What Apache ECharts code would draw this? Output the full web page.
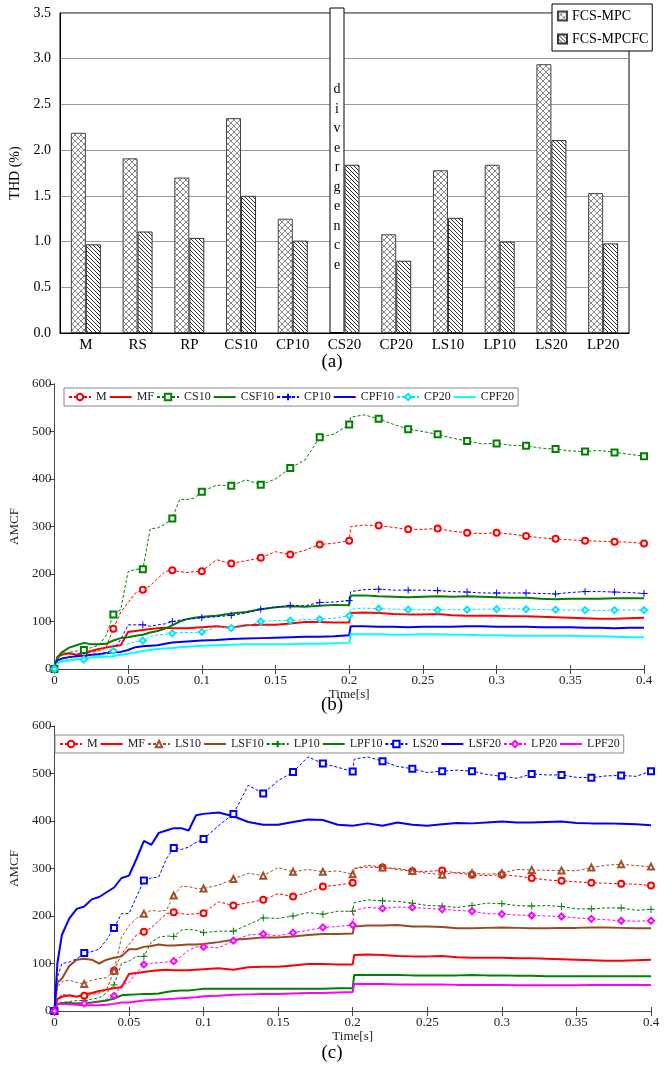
<!DOCTYPE html>
<html>
<head>
<meta charset="utf-8">
<script src="https://cdn.jsdelivr.net/npm/echarts@6/dist/echarts.min.js"></script>
<style>
  html, body { margin: 0; padding: 0; background: #fff; }
  #chart { width: 664px; height: 1070px; }
</style>
</head>
<body>
<div id="chart"></div>
<script>
// (a) THD of each case
const cases = ['M', 'RS', 'RP', 'CS10', 'CP10', 'CS20', 'CP20', 'LS10', 'LP10', 'LS20', 'LP20']
const thdMpc = [2.19, 1.91, 1.70, 2.35, 1.25, null, 1.08, 1.78, 1.84, 2.94, 1.53]
const thdMpcfc = [0.97, 1.11, 1.04, 1.50, 1.01, 1.84, 0.79, 1.26, 1.00, 2.11, 0.98]
const divergenceIndex = 5
const divergenceTop = 3.56

// (b), (c) AMCF over time
const time = [0, 0.002, 0.005, 0.01, 0.015, 0.02, 0.025, 0.03, 0.035, 0.04, 0.045, 0.05, 0.055, 0.06, 0.065,
  0.07, 0.075, 0.08, 0.085, 0.09, 0.095, 0.1, 0.11, 0.12, 0.13, 0.14, 0.15, 0.16, 0.17, 0.18, 0.19, 0.2, 0.201,
  0.21, 0.22, 0.23, 0.24, 0.25, 0.26, 0.27, 0.28, 0.29, 0.3, 0.31, 0.32, 0.33, 0.34, 0.35, 0.36, 0.37, 0.38, 0.39, 0.4]

const m = [0, 25, 35, 32, 30, 32, 35, 38, 45, 85, 120, 140, 160, 167, 175, 190, 205, 208, 205, 203, 205, 206,
  230, 222, 228, 234, 247, 241, 250, 262, 265, 270, 300,
  303, 302, 298, 294, 294, 296, 290, 287, 285, 287, 284, 280, 276, 274, 272, 270, 269, 268, 267, 264]
const mf = [0, 25, 30, 33, 30, 35, 38, 42, 45, 48, 50, 78, 80, 82, 84, 86, 87, 86, 86, 86, 87, 88,
  90, 87, 92, 93, 93, 96, 99, 99, 98, 98, 118,
  119, 118, 116, 115, 115, 116, 113, 112, 112, 112, 111, 111, 110, 109, 108, 107, 106, 106, 107, 108]
const cs10 = [0, 20, 30, 35, 38, 40, 45, 50, 70, 115, 125, 205, 210, 210, 295, 297, 305, 317, 357, 357, 360, 373,
  387, 386, 398, 388, 400, 423, 440, 488, 495, 515, 530,
  535, 527, 515, 505, 500, 494, 486, 480, 474, 475, 471, 470, 465, 463, 459, 458, 460, 456, 452, 448]
const csf10 = [0, 25, 35, 45, 50, 55, 52, 52, 53, 60, 65, 67, 70, 72, 77, 80, 85, 92, 100, 105, 108, 110,
  112, 117, 120, 126, 130, 132, 131, 133, 135, 134, 155,
  155, 153, 152, 151, 152, 153, 152, 153, 152, 151, 150, 150, 148, 147, 148, 148, 148, 149, 149, 149]
const cp10 = [0, 15, 22, 25, 27, 28, 30, 32, 35, 40, 62, 93, 93, 93, 90, 93, 95, 100, 103, 105, 106, 108,
  110, 113, 118, 126, 130, 134, 133, 140, 141, 144, 163,
  167, 168, 166, 166, 166, 165, 163, 162, 160, 160, 160, 160, 159, 158, 161, 163, 163, 162, 161, 159]
const cpf10 = [0, 18, 22, 25, 27, 28, 30, 31, 33, 35, 36, 40, 46, 48, 49, 50, 53, 56, 57, 58, 59, 60,
  61, 63, 64, 65, 66, 67, 68, 68, 69, 71, 90,
  90, 89, 89, 88, 89, 89, 89, 90, 90, 89, 89, 89, 88, 88, 88, 87, 87, 86, 87, 87]
const cp20 = [0, 12, 18, 20, 22, 20, 25, 28, 32, 38, 50, 53, 57, 60, 68, 72, 73, 75, 77, 77, 77, 78,
  88, 86, 90, 100, 102, 102, 104, 105, 107, 112, 126,
  128, 127, 126, 125, 125, 124, 125, 125, 126, 126, 127, 126, 125, 125, 124, 124, 123, 124, 124, 124]
const cpf20 = [0, 12, 16, 18, 20, 22, 24, 25, 26, 27, 30, 32, 35, 38, 40, 42, 43, 44, 46, 47, 48, 49,
  50, 51, 52, 52, 52, 52, 53, 53, 54, 55, 73,
  73, 73, 72, 72, 73, 73, 72, 72, 71, 71, 70, 70, 70, 70, 70, 69, 69, 68, 67, 67]
const ls10 = [0, 50, 62, 65, 60, 57, 65, 68, 70, 85, 155, 180, 195, 205, 212, 210, 212, 243, 262, 262, 258, 258,
  265, 278, 290, 285, 302, 293, 298, 293, 295, 288, 300,
  307, 302, 300, 295, 290, 287, 292, 290, 288, 290, 298, 297, 296, 296, 295, 302, 307, 309, 306, 304]
const lsf10 = [0, 60, 68, 95, 108, 110, 108, 100, 108, 112, 115, 130, 130, 135, 137, 140, 138, 138, 139, 140, 140, 141,
  145, 150, 152, 155, 155, 157, 160, 162, 162, 163, 178,
  180, 180, 181, 178, 178, 177, 174, 174, 175, 176, 175, 174, 174, 175, 175, 176, 176, 175, 174, 174]
const lp10 = [0, 15, 18, 20, 22, 22, 25, 28, 38, 55, 100, 105, 115, 115, 145, 155, 158, 157, 170, 172, 170, 165,
  168, 168, 182, 196, 195, 200, 207, 204, 210, 210, 228,
  234, 232, 231, 227, 222, 221, 218, 222, 227, 226, 222, 221, 222, 220, 215, 215, 217, 217, 212, 214]
const lpf10 = [0, 15, 17, 17, 16, 17, 18, 20, 22, 26, 33, 34, 35, 36, 36, 37, 40, 42, 43, 43, 45, 47,
  47, 47, 47, 47, 47, 47, 47, 47, 48, 48, 76,
  76, 76, 76, 75, 75, 75, 75, 76, 75, 75, 74, 74, 73, 73, 73, 73, 73, 73, 73, 73]
const ls20 = [0, 70, 100, 103, 110, 122, 125, 130, 150, 175, 205, 205, 240, 275, 280, 282, 320, 343, 340, 345, 355, 362,
  390, 415, 475, 458, 485, 503, 535, 521, 513, 504, 530,
  535, 526, 515, 510, 502, 505, 507, 505, 498, 494, 490, 499, 497, 497, 492, 491, 495, 496, 494, 505]
const lsf20 = [0, 100, 160, 195, 215, 220, 235, 240, 250, 260, 280, 285, 320, 358, 350, 375, 380, 385, 385, 380, 412, 415,
  418, 410, 398, 392, 392, 398, 403, 402, 392, 390, 390,
  395, 390, 397, 392, 390, 393, 396, 395, 397, 399, 397, 397, 398, 399, 396, 395, 395, 394, 393, 391]
const lp20 = [0, 12, 15, 15, 15, 16, 17, 20, 25, 32, 55, 60, 80, 98, 100, 102, 103, 105, 115, 128, 135, 135,
  133, 148, 160, 162, 158, 165, 170, 176, 178, 181, 212,
  218, 216, 219, 218, 216, 214, 212, 210, 205, 204, 202, 201, 200, 199, 196, 194, 192, 190, 189, 190]
const lpf20 = [0, 14, 15, 14, 13, 12, 12, 12, 13, 15, 18, 18, 20, 22, 23, 24, 25, 26, 27, 28, 29, 31,
  32, 34, 35, 36, 36, 37, 38, 38, 39, 40, 57,
  57, 57, 56, 56, 56, 56, 55, 55, 55, 55, 54, 54, 54, 54, 54, 55, 55, 55, 55, 55]

const serif = "'Liberation Serif', 'Times New Roman', serif"
const plus = 'path://M0,5L10,5M5,0L5,10'

function hatch(cross) {
  let s = cross ? 6 : 4
  let c = document.createElement('canvas')
  c.width = s
  c.height = s
  let g = c.getContext('2d')
  g.fillStyle = '#fff'
  g.fillRect(0, 0, s, s)
  g.strokeStyle = cross ? '#888' : '#333'
  g.lineWidth = 1
  g.beginPath()
  for (let k = -s; k <= s; k += s) {
    g.moveTo(k - 1, -1)
    g.lineTo(k + s + 1, s + 1)
    if (cross) {
      g.moveTo(k + s + 1, -1)
      g.lineTo(k - 1, s + 1)
    }
  }
  g.stroke()
  return { image: c, repeat: 'repeat' }
}

function lineSeries(name, values, axis, color, symbol) {
  let dashed = !!symbol
  return {
    name: name,
    type: 'line',
    xAxisIndex: axis,
    yAxisIndex: axis,
    showAllSymbol: true,
    symbol: dashed ? symbol : 'none',
    symbolSize: symbol === plus ? 7 : 6,
    data: time.map((t, i) => {
      let mark = dashed && Math.abs(t * 50 - Math.round(t * 50)) < 1e-6
      return mark ? [t, values[i]] : { value: [t, values[i]], symbol: 'none' }
    }),
    lineStyle: { color: color, width: dashed ? 1 : 2, type: dashed ? [3, 2] : 'solid' },
    // solid curves carry no markers, so keep their legend marker invisible
    itemStyle: dashed
      ? { color: color, borderColor: color, borderWidth: 1 }
      : { color: 'rgba(0,0,0,0)', borderWidth: 0 }
  }
}

function timeAxes(grid) {
  let base = {
    gridIndex: grid, type: 'value', min: 0, max: 0.4, interval: 0.05,
    axisLine: { lineStyle: { color: '#444' } },
    splitLine: { show: false }
  }
  return [
    Object.assign({}, base, {
      position: 'bottom',
      axisTick: { inside: true, length: 4, lineStyle: { color: '#444' } },
      axisLabel: { fontFamily: serif, fontSize: 13, color: '#222', margin: 5 },
      name: 'Time[s]', nameLocation: 'middle', nameGap: 17,
      nameTextStyle: { fontFamily: serif, fontSize: 13, color: '#222' }
    }),
    Object.assign({}, base, {
      position: 'top',
      axisTick: { inside: true, length: 5, lineStyle: { color: '#444' } },
      axisLabel: { show: false }
    })
  ]
}

function amcfAxes(grid, gap) {
  let base = {
    gridIndex: grid, type: 'value', min: 0, max: 600, interval: 100,
    axisLine: { show: true, lineStyle: { color: '#444' } },
    splitLine: { show: false }
  }
  return [
    Object.assign({}, base, {
      position: 'left',
      axisTick: { show: true, length: 4, lineStyle: { color: '#444' } },
      axisLabel: { fontFamily: serif, fontSize: 13, color: '#222', margin: 3 },
      name: 'AMCF', nameLocation: 'middle', nameGap: gap,
      nameTextStyle: { fontFamily: serif, fontSize: 13, color: '#222' }
    }),
    Object.assign({}, base, {
      position: 'right',
      axisTick: { show: true, inside: true, length: 5, lineStyle: { color: '#444' } },
      axisLabel: { show: false }
    })
  ]
}

function lineLegend(names, left, top) {
  return {
    data: names, left: left, top: top, orient: 'horizontal',
    itemWidth: 22, itemHeight: 8, itemGap: 2, padding: [3, 4],
    backgroundColor: '#fff', borderColor: '#888', borderWidth: 1,
    textStyle: { fontFamily: serif, fontSize: 12, color: '#222' }
  }
}

const crossFill = hatch(true)
const lineFill = hatch(false)
const caption = { fontFamily: serif, fontSize: 19, fontWeight: 'normal', color: '#000' }

let myChart = echarts.init(document.getElementById('chart'))
myChart.setOption({
  animation: false,
  backgroundColor: '#fff',
  title: [
    { text: '(a)', left: 'center', top: 353, padding: 0, textStyle: caption },
    { text: '(b)', left: 'center', top: 696, padding: 0, textStyle: caption },
    { text: '(c)', left: 'center', top: 1044, padding: 0, textStyle: caption }
  ],
  legend: [
    {
      data: ['FCS-MPC', 'FCS-MPCFC'], orient: 'vertical', left: 552, top: 4,
      icon: 'rect', itemWidth: 9, itemHeight: 9, itemGap: 9, padding: [5, 4, 5, 5],
      backgroundColor: '#fff', borderColor: '#000', borderWidth: 1,
      textStyle: { fontFamily: serif, fontSize: 14, color: '#000' }
    },
    lineLegend(['M', 'MF', 'CS10', 'CSF10', 'CP10', 'CPF10', 'CP20', 'CPF20'], 64, 388),
    lineLegend(['M', 'MF', 'LS10', 'LSF10', 'LP10', 'LPF10', 'LS20', 'LSF20', 'LP20', 'LPF20'], 55, 735)
  ],
  grid: [
    { left: 60, top: 13, width: 569, height: 320, show: true, borderColor: '#000', borderWidth: 1 },
    { left: 52, top: 384, width: 592, height: 285 },
    { left: 46, top: 726, width: 605, height: 285 }
  ],
  xAxis: [
    {
      gridIndex: 0, type: 'category', data: cases,
      axisLine: { lineStyle: { color: '#000' } },
      axisTick: { show: false },
      axisLabel: { fontFamily: serif, fontSize: 15, color: '#000', margin: 5 }
    },
    ...timeAxes(1),
    ...timeAxes(2)
  ],
  yAxis: [
    {
      gridIndex: 0, type: 'value', min: 0, max: 3.5, interval: 0.5,
      axisLine: { show: true, lineStyle: { color: '#000' } },
      axisTick: { show: false },
      splitLine: { lineStyle: { color: '#999' } },
      axisLabel: { fontFamily: serif, fontSize: 14, color: '#000', margin: 9, formatter: v => v.toFixed(1) },
      name: 'THD (%)', nameLocation: 'middle', nameGap: 32,
      nameTextStyle: { fontFamily: serif, fontSize: 14, color: '#000' }
    },
    ...amcfAxes(1, 25),
    ...amcfAxes(2, 26)
  ],
  series: [
    {
      name: 'FCS-MPC', type: 'bar', xAxisIndex: 0, yAxisIndex: 0, barWidth: 15, barGap: '0%', clip: false,
      itemStyle: { color: crossFill, borderColor: '#444', borderWidth: 1 },
      data: thdMpc.map((v, i) => i !== divergenceIndex ? v : {
        value: divergenceTop,
        itemStyle: { color: '#fff', borderColor: '#000' },
        label: {
          show: true, position: 'inside', offset: [0, 7],
          formatter: 'divergence'.split('').join('\n'),
          fontFamily: serif, fontSize: 14, lineHeight: 19.5, color: '#000'
        }
      })
    },
    {
      name: 'FCS-MPCFC', type: 'bar', xAxisIndex: 0, yAxisIndex: 0, barWidth: 15, barGap: '0%',
      itemStyle: { color: lineFill, borderColor: '#333', borderWidth: 1 },
      data: thdMpcfc
    },
    lineSeries('M', m, 1, '#ff0000', 'emptyCircle'),
    lineSeries('MF', mf, 1, '#ff0000'),
    lineSeries('CS10', cs10, 1, '#008000', 'emptyRect'),
    lineSeries('CSF10', csf10, 1, '#008000'),
    lineSeries('CP10', cp10, 1, '#0000ff', plus),
    lineSeries('CPF10', cpf10, 1, '#0000ff'),
    lineSeries('CP20', cp20, 1, '#00e5ff', 'emptyDiamond'),
    lineSeries('CPF20', cpf20, 1, '#00ffff'),
    lineSeries('M', m, 3, '#ff0000', 'emptyCircle'),
    lineSeries('MF', mf, 3, '#ff0000'),
    lineSeries('LS10', ls10, 3, '#a0522d', 'emptyTriangle'),
    lineSeries('LSF10', lsf10, 3, '#994a1f'),
    lineSeries('LP10', lp10, 3, '#008000', plus),
    lineSeries('LPF10', lpf10, 3, '#008000'),
    lineSeries('LS20', ls20, 3, '#0000ff', 'emptyRect'),
    lineSeries('LSF20', lsf20, 3, '#0000ff'),
    lineSeries('LP20', lp20, 3, '#ff00ff', 'emptyDiamond'),
    lineSeries('LPF20', lpf20, 3, '#ff00ff')
  ]
})
</script>
</body>
</html>
